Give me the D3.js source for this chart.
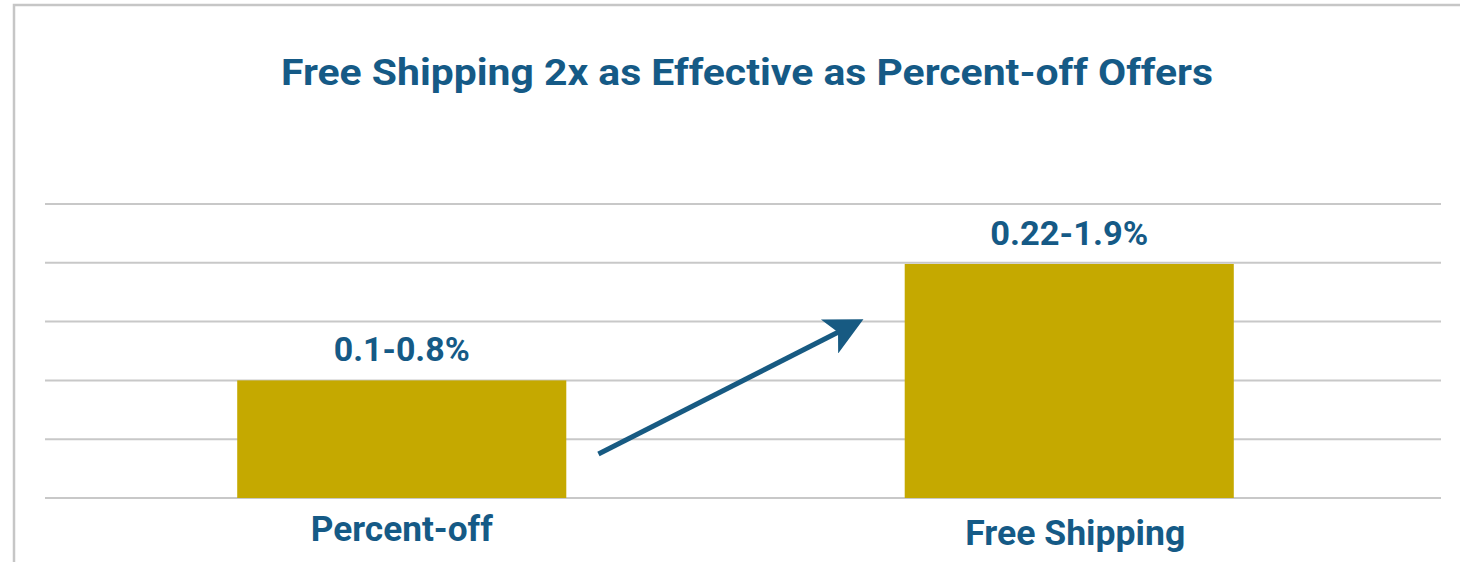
<!DOCTYPE html>
<html>
<head>
<meta charset="utf-8">
<script src="https://cdn.jsdelivr.net/npm/d3@7"></script>
<style>
  html, body { margin: 0; padding: 0; background: #fff; }
  svg { display: block; }
  .lbl { font-family: Roboto, "Liberation Sans", sans-serif; font-weight: 700; fill: #155a86; }
</style>
</head>
<body>
<div id="chart"></div>
<script>
// data
var title = "Free Shipping 2x as Effective as Percent-off Offers";
var categories = ["Percent-off", "Free Shipping"];
var values = [2.0, 3.98];
var valueLabels = ["0.1-0.8%", "0.22-1.9%"];
var yTicks = [0, 1, 2, 3, 4, 5];
// arrow annotation, in data units: [fraction across gap, value]
var arrowFrom = [0.095, 0.75];
var arrowTo = [0.858, 2.98];

var width = 1460, height = 562;

var svg = d3.select("#chart").append("svg")
    .attr("width", width)
    .attr("height", height);

// frame
svg.append("rect")
    .attr("x", 14).attr("y", 5)
    .attr("width", width + 20).attr("height", height + 20)
    .attr("fill", "none")
    .attr("stroke", "#c6c6c6")
    .attr("stroke-width", 2.5);

svg.append("text")
    .attr("class", "lbl")
    .attr("x", 747).attr("y", 85)
    .attr("text-anchor", "middle")
    .attr("font-size", 37)
    .attr("textLength", 932)
    .attr("lengthAdjust", "spacingAndGlyphs")
    .text(title);

var x = d3.scaleBand()
    .domain(categories)
    .range([68, 1403])
    .paddingInner(0.507)
    .paddingOuter(0.2535);

var y = d3.scaleLinear()
    .domain([0, 5])
    .range([498, 204]);

// gridlines
svg.append("g")
    .selectAll("line")
    .data(yTicks)
    .enter().append("line")
    .attr("x1", 45).attr("x2", 1441)
    .attr("y1", function(d) { return y(d); })
    .attr("y2", function(d) { return y(d); })
    .attr("stroke", "#c8c8c8")
    .attr("stroke-width", 2);

// bars
svg.append("g")
    .selectAll("rect")
    .data(values)
    .enter().append("rect")
    .attr("x", function(d, i) { return x(categories[i]); })
    .attr("y", function(d) { return y(d); })
    .attr("width", x.bandwidth())
    .attr("height", function(d) { return y(0) - y(d); })
    .attr("fill", "#c5a900");

// value labels
var valueWidths = [136, 158];
svg.append("g")
    .selectAll("text")
    .data(values)
    .enter().append("text")
    .attr("class", "lbl")
    .attr("x", function(d, i) { return x(categories[i]) + x.bandwidth() / 2; })
    .attr("y", function(d) { return y(d) - 19; })
    .attr("text-anchor", "middle")
    .attr("font-size", 34)
    .attr("textLength", function(d, i) { return valueWidths[i]; })
    .attr("lengthAdjust", "spacingAndGlyphs")
    .text(function(d, i) { return valueLabels[i]; });

// category labels
var catWidths = [182, 220];
var catBase = [541, 545];
svg.append("g")
    .selectAll("text")
    .data(categories)
    .enter().append("text")
    .attr("class", "lbl")
    .attr("x", function(d, i) { return x(d) + x.bandwidth() / 2 + (i ? 6 : 0); })
    .attr("y", function(d, i) { return catBase[i]; })
    .attr("text-anchor", "middle")
    .attr("font-size", 35)
    .attr("textLength", function(d, i) { return catWidths[i]; })
    .attr("lengthAdjust", "spacingAndGlyphs")
    .text(function(d) { return d; });

// arrow between the bars
var gapStart = x(categories[0]) + x.bandwidth();
var gapEnd = x(categories[1]);
var ax = d3.scaleLinear().domain([0, 1]).range([gapStart, gapEnd]);

svg.append("defs").append("marker")
    .attr("id", "head")
    .attr("viewBox", "0 0 10 10")
    .attr("refX", 8).attr("refY", 5)
    .attr("markerUnits", "userSpaceOnUse")
    .attr("markerWidth", 40).attr("markerHeight", 38)
    .attr("orient", "auto")
    .append("path")
    .attr("d", "M0,0 L10,5 L0,10 L2.5,5 Z")
    .attr("fill", "#175a82");

svg.append("line")
    .attr("x1", ax(arrowFrom[0])).attr("y1", y(arrowFrom[1]))
    .attr("x2", ax(arrowTo[0])).attr("y2", y(arrowTo[1]))
    .attr("stroke", "#175a82")
    .attr("stroke-width", 5)
    .attr("marker-end", "url(#head)");
</script>
</body>
</html>
